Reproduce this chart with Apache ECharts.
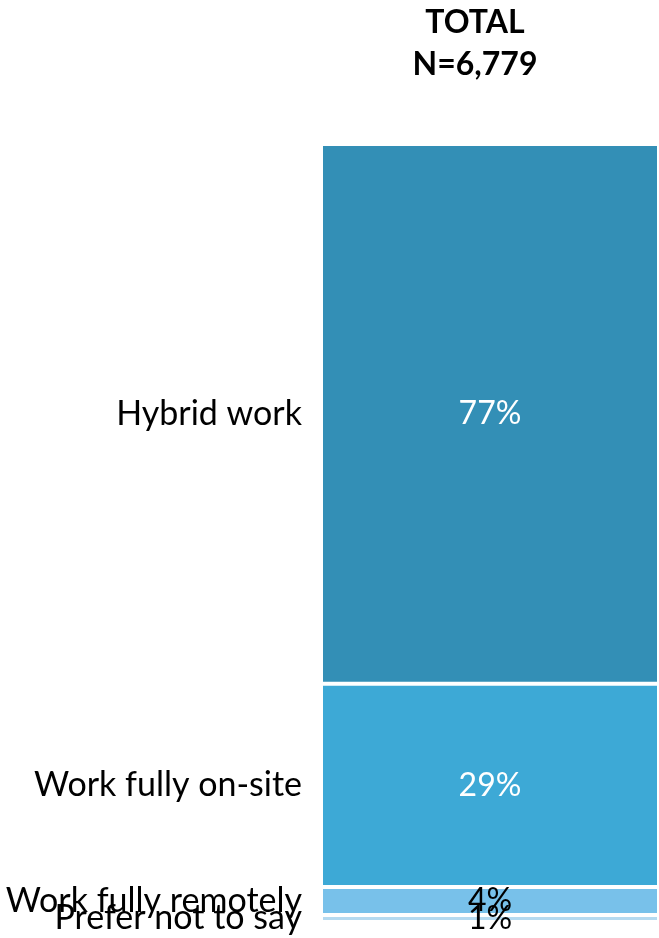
<!DOCTYPE html>
<html>
<head>
<meta charset="utf-8">
<script src="https://cdn.jsdelivr.net/npm/echarts@6/dist/echarts.min.js"></script>
<style>
  html, body { margin: 0; padding: 0; background: #fff; }
  #chart { width: 659px; height: 938px; }
</style>
</head>
<body>
<div id="chart"></div>
<script>
// Work arrangement preference, single stacked column (shares in %)
const groupLabel = 'TOTAL';
const sampleSize = 'N=6,779';
const segmentNames = ['Hybrid work', 'Work fully on-site', 'Work fully remotely', 'Prefer not to say'];
const segmentValues = [77, 29, 4, 1];
const segmentColors = ['#338fb6', '#3da9d6', '#78c1ea', '#b5daf0'];
const valueLabelColors = ['#ffffff', '#ffffff', '#000000', '#000000'];

const FONT = 'Lato, "Open Sans", sans-serif';
const total = segmentValues.reduce((a, b) => a + b, 0);

const chart = echarts.init(document.getElementById('chart'));

// Filled segments with value labels inside
const valueSeries = segmentNames.map((name, i) => ({
  name: name,
  type: 'bar',
  stack: 'total',
  xAxisIndex: 0,
  yAxisIndex: 0,
  barWidth: '100%',
  data: [segmentValues[i]],
  itemStyle: { color: segmentColors[i], borderColor: '#ffffff', borderWidth: 2 },
  label: {
    show: true,
    position: 'inside',
    formatter: '{c}%',
    color: valueLabelColors[i],
    fontFamily: FONT,
    fontSize: 32
  },
  emphasis: { disabled: true }
}));

// Transparent twin stack that carries the category names on the left
const nameSeries = segmentNames.map((name, i) => ({
  name: name + ' label',
  type: 'bar',
  stack: 'names',
  xAxisIndex: 1,
  yAxisIndex: 1,
  barWidth: '100%',
  data: [segmentValues[i]],
  itemStyle: { color: 'rgba(0,0,0,0)' },
  label: {
    show: true,
    position: 'left',
    distance: 19,
    formatter: name,
    color: '#000000',
    fontFamily: FONT,
    fontSize: 34
  },
  emphasis: { disabled: true }
}));

chart.setOption({
  animation: false,
  title: {
    text: groupLabel + '\n' + sampleSize,
    left: 470,
    top: -3,
    textAlign: 'center',
    textStyle: { fontFamily: FONT, fontWeight: 'bold', fontSize: 32, lineHeight: 42, color: '#000' }
  },
  grid: { left: 321, right: -4, top: 144, bottom: 16 },
  xAxis: [
    { type: 'category', data: [groupLabel], show: false },
    { type: 'category', data: [groupLabel], show: false }
  ],
  yAxis: [
    { type: 'value', min: 0, max: total, inverse: true, show: false },
    { type: 'value', min: 0, max: total, inverse: true, show: false }
  ],
  series: valueSeries.concat(nameSeries)
});
</script>
</body>
</html>
